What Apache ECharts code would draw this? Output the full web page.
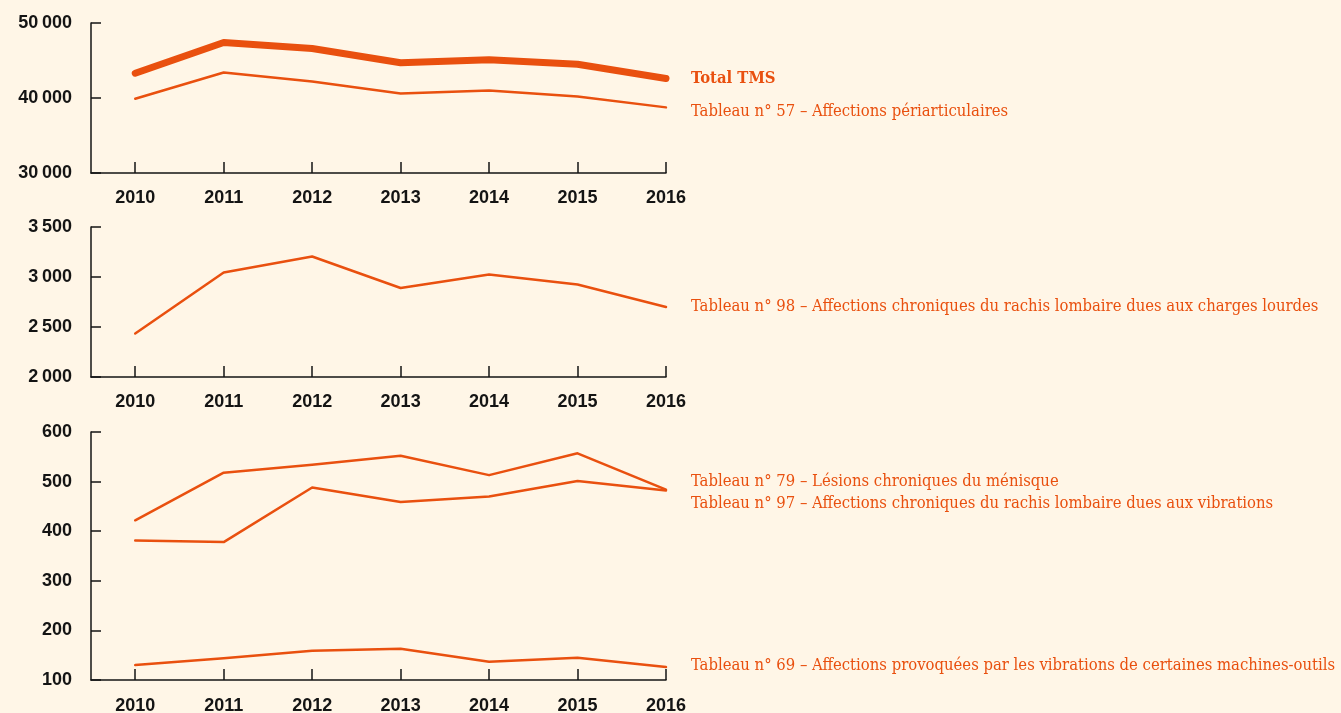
<!DOCTYPE html>
<html>
<head>
<meta charset="utf-8">
<script src="https://cdn.jsdelivr.net/npm/echarts@6/dist/echarts.min.js"></script>
<style>
html,body{margin:0;padding:0;background:#fff6e7;}
#c{width:1341px;height:713px;}
</style>
</head>
<body>
<div id="c"></div>
<script>
// ---- data ----
const years = [2010, 2011, 2012, 2013, 2014, 2015, 2016];

const totalTMS = [43300, 47400, 46600, 44700, 45100, 44500, 42600];
const tab57    = [39900, 43400, 42200, 40600, 41000, 40200, 38750];
const tab98    = [2435, 3045, 3205, 2890, 3025, 2925, 2700];
const tab79    = [422, 518, 534, 552, 513, 557, 484];
const tab97    = [381, 378, 488, 459, 470, 501, 482];
const tab69    = [130, 144, 159, 163, 137, 145, 126];

const names = {
  totalTMS: 'Total TMS',
  tab57: 'Tableau n° 57 – Affections périarticulaires',
  tab98: 'Tableau n° 98 – Affections chroniques du rachis lombaire dues aux charges lourdes',
  tab79: 'Tableau n° 79 – Lésions chroniques du ménisque',
  tab97: 'Tableau n° 97 – Affections chroniques du rachis lombaire dues aux vibrations',
  tab69: 'Tableau n° 69 – Affections provoquées par les vibrations de certaines machines-outils'
};

const yTicks1 = [30000, 40000, 50000];
const yTicks2 = [2000, 2500, 3000, 3500];
const yTicks3 = [100, 200, 300, 400, 500, 600];

// ---- styles ----
const ORANGE = '#e9500f';
const INK = '#141414';
const pair = arr => years.map((y, i) => [y, arr[i]]);
const fmt = v => String(v).replace(/\B(?=(\d{3})+(?!\d))/g, '\u2009');

const grids = [
  {left: 91, width: 575, top: 23, height: 150, containLabel: false, outerBoundsMode: 'none'},
  {left: 91, width: 575, top: 227, height: 150, containLabel: false, outerBoundsMode: 'none'},
  {left: 91, width: 575, top: 432, height: 248, containLabel: false, outerBoundsMode: 'none'}
];

function xAxis(gi, margin) {
  return {
    type: 'value', gridIndex: gi, min: years[0] - 0.5, max: years[years.length - 1],
    splitLine: {show: false},
    axisLine: {show: true, lineStyle: {color: INK, width: 1.5}},
    axisTick: {show: true, inside: true, length: 11, customValues: years, lineStyle: {color: INK, width: 1.5}},
    axisLabel: {show: true, customValues: years, margin: margin, color: INK, fontFamily: 'Liberation Sans', fontWeight: 'bold', fontSize: 18, formatter: v => String(v)}
  };
}
function yAxis(gi, ticks) {
  return {
    type: 'value', gridIndex: gi, min: ticks[0], max: ticks[ticks.length - 1], interval: ticks[1] - ticks[0],
    splitLine: {show: false},
    axisLine: {show: true, lineStyle: {color: INK, width: 1.5}},
    axisTick: {show: true, inside: true, length: 10, lineStyle: {color: INK, width: 1.5}},
    axisLabel: {margin: 19, color: INK, fontFamily: 'Liberation Sans', fontWeight: 'bold', fontSize: 18, formatter: v => fmt(v)}
  };
}
function line(name, arr, gi, opts) {
  opts = opts || {};
  return {
    type: 'line', name: name, xAxisIndex: gi, yAxisIndex: gi, data: pair(arr),
    symbol: 'none', smooth: false, silent: true,
    lineStyle: {color: ORANGE, width: opts.width || 2.5, cap: 'round', join: 'round'},
    endLabel: {
      show: true, formatter: name, distance: 25, offset: opts.offset || [0, 0],
      color: ORANGE, fontFamily: 'DejaVu Serif Condensed', fontSize: 16.5,
      fontWeight: opts.bold ? 'bold' : 'normal'
    }
  };
}

const chart = echarts.init(document.getElementById('c'), null, {renderer: 'canvas'});
chart.setOption({
  backgroundColor: '#fff6e7',
  animation: false,
  grid: grids,
  xAxis: [xAxis(0, 16), xAxis(1, 16), xAxis(2, 17)],
  yAxis: [yAxis(0, yTicks1), yAxis(1, yTicks2), yAxis(2, yTicks3)],
  series: [
    line(names.totalTMS, totalTMS, 0, {width: 7, bold: true, offset: [0, 0]}),
    line(names.tab57, tab57, 0, {offset: [0, 4]}),
    line(names.tab98, tab98, 1),
    line(names.tab79, tab79, 2, {offset: [0, -8]}),
    line(names.tab97, tab97, 2, {offset: [0, 13]}),
    line(names.tab69, tab69, 2, {offset: [0, -1]})
  ]
});
</script>
</body>
</html>
